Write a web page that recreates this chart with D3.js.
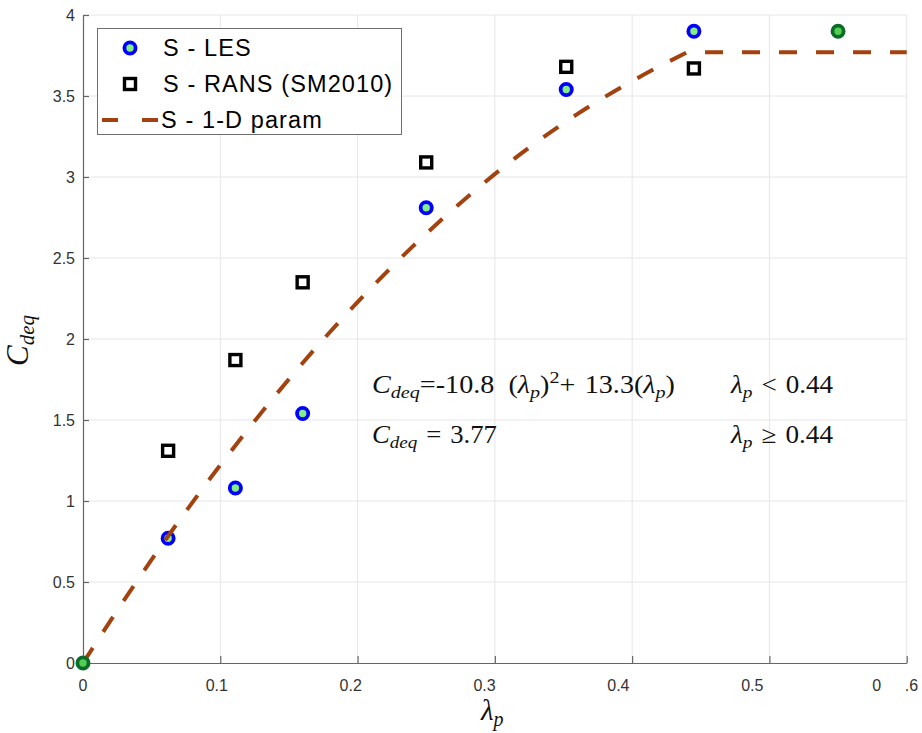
<!DOCTYPE html>
<html>
<head>
<meta charset="utf-8">
<script src="https://cdn.jsdelivr.net/npm/d3@7"></script>
<style>
  html, body { margin: 0; padding: 0; background: #fff; }
  svg { display: block; }
  .tick-label { font-family: "Liberation Sans", Arial, sans-serif; font-size: 16px; fill: #333; }
  .math { font-family: "Liberation Serif", "Times New Roman", serif; fill: #111; }
  .legend-text { font-family: "Liberation Sans", Arial, sans-serif; font-size: 23.5px; letter-spacing: 1.1px; fill: #000; }
</style>
</head>
<body>
<svg id="chart" width="922" height="733"></svg>
<script>
// Canopy drag coefficient against plan-area density
const lesX = [0.062, 0.111, 0.160, 0.250, 0.352, 0.445];
const lesY = [0.77, 1.08, 1.54, 2.81, 3.54, 3.90];

const ransX = [0.062, 0.111, 0.160, 0.250, 0.352, 0.445];
const ransY = [1.31, 1.87, 2.35, 3.09, 3.68, 3.67];

// reference points (origin and the densest array)
const refX = [0, 0.55];
const refY = [0, 3.90];

// 1-D parameterisation: -10.8 λ² + 13.3 λ below 0.44, then a 3.77 plateau
const paramX = [0, 0.04, 0.08, 0.12, 0.16, 0.20, 0.24, 0.28, 0.32, 0.36, 0.40, 0.44];
const paramY = [0, 0.515, 0.995, 1.440, 1.852, 2.228, 2.570, 2.877, 3.150, 3.388, 3.592, 3.77];
const plateauX = [0.44, 0.60];
const plateauY = [3.77, 3.77];

const xTicks = [0, 0.1, 0.2, 0.3, 0.4, 0.5, 0.6];
const xTickLabels = ["0", "0.1", "0.2", "0.3", "0.4", "0.5", "0 .6"];
const yTicks = [0, 0.5, 1, 1.5, 2, 2.5, 3, 3.5, 4];
const yTickLabels = ["0", "0.5", "1", "1.5", "2", "2.5", "3", "3.5", "4"];

const legendLabels = ["S - LES", "S - RANS (SM2010)", "S - 1-D param"];

const svg = d3.select("#chart");
const x = d3.scaleLinear().domain([0, 0.6]).range([83, 906.7]);
const y = d3.scaleLinear().domain([0, 4]).range([663, 15]);

const BROWN = "#a3420f";
const BLUE = "#0000ff";
const LIGHTGREEN = "#80f080";

// grid
const grid = svg.append("g");
grid.selectAll("line.gx").data(xTicks.slice(1)).join("line")
  .attr("x1", d => x(d)).attr("x2", d => x(d))
  .attr("y1", y(0)).attr("y2", y(4))
  .attr("stroke", "#e6e6e6").attr("stroke-width", 1);
grid.selectAll("line.gy").data(yTicks.slice(1)).join("line")
  .attr("x1", x(0)).attr("x2", x(0.6))
  .attr("y1", d => y(d)).attr("y2", d => y(d))
  .attr("stroke", "#e6e6e6").attr("stroke-width", 1);

// axes with inward ticks
const xAxis = svg.append("g").attr("transform", `translate(0,${y(0)})`)
  .call(d3.axisBottom(x).tickValues(xTicks).tickSize(-7).tickSizeOuter(0).tickFormat(""));
const yAxis = svg.append("g").attr("transform", `translate(${x(0)},0)`)
  .call(d3.axisLeft(y).tickValues(yTicks).tickSize(-6).tickSizeOuter(0).tickFormat(""));
[xAxis, yAxis].forEach(a => {
  a.select(".domain").attr("stroke", "#666").attr("stroke-width", 1.2);
  a.selectAll(".tick line").attr("stroke", "#666").attr("stroke-width", 1.2);
});

// x tick labels
xTickLabels.forEach((lab, i) => {
  const px = x(0) + (x(xTicks[i]) - x(0)) * 0.975;
  if (lab.includes(" ")) {
    const parts = lab.split(" ");
    svg.append("text").attr("class", "tick-label").attr("text-anchor", "middle")
      .attr("x", x(xTicks[i]) - 30).attr("y", 691).text(parts[0]);
    svg.append("text").attr("class", "tick-label").attr("text-anchor", "start")
      .attr("x", x(xTicks[i]) - 2).attr("y", 691).text(parts[1]);
  } else {
    svg.append("text").attr("class", "tick-label").attr("text-anchor", "middle")
      .attr("x", px).attr("y", 691).text(lab);
  }
});
// y tick labels
yTickLabels.forEach((lab, i) => {
  svg.append("text").attr("class", "tick-label").attr("text-anchor", "end")
    .attr("x", 75).attr("y", y(yTicks[i]) + 6).text(lab);
});

// axis titles
const xl = svg.append("text").attr("class", "math").attr("x", 481).attr("y", 720);
xl.append("tspan").attr("font-style", "italic").attr("font-size", 29).text("λ");
xl.append("tspan").attr("font-style", "italic").attr("font-size", 20).attr("dy", 6).text("p");

const yl = svg.append("text").attr("class", "math")
  .attr("transform", "translate(28,366) rotate(-90)");
yl.append("tspan").attr("font-style", "italic").attr("font-size", 31).text("C");
yl.append("tspan").attr("font-style", "italic").attr("font-size", 21).attr("dy", 6).text("deq");

// LES markers
const MR = 5.6, MW = 3.8;
svg.append("g").selectAll("circle").data(lesX.map((d, i) => [d, lesY[i]])).join("circle")
  .attr("cx", d => x(d[0])).attr("cy", d => y(d[1])).attr("r", MR)
  .attr("fill", LIGHTGREEN).attr("stroke", BLUE).attr("stroke-width", MW);

// RANS markers
const sq = 11;
svg.append("g").selectAll("rect").data(ransX.map((d, i) => [d, ransY[i]])).join("rect")
  .attr("x", d => x(d[0]) - sq / 2).attr("y", d => y(d[1]) - sq / 2)
  .attr("width", sq).attr("height", sq)
  .attr("fill", "#fff").attr("stroke", "#000").attr("stroke-width", 3.4);

// parameterised curve: smooth quadratic part joined to a straight plateau
const curve = d3.line().x(d => x(d[0])).y(d => y(d[1])).curve(d3.curveMonotoneX);
const flat = d3.line().x(d => x(d[0])).y(d => y(d[1]));
const curvePath = curve(paramX.map((d, i) => [d, paramY[i]]));
const flatPath = flat(plateauX.map((d, i) => [d, plateauY[i]])).replace(/^M/, "L");
svg.append("path").attr("d", curvePath + flatPath)
  .attr("fill", "none").attr("stroke", BROWN)
  .attr("stroke-width", 4).attr("stroke-dasharray", "18,19");

// reference points
svg.append("g").selectAll("circle").data(refX.map((d, i) => [d, refY[i]])).join("circle")
  .attr("cx", d => x(d[0])).attr("cy", d => y(d[1])).attr("r", MR)
  .attr("fill", "#50d050").attr("stroke", "#0d6b2a").attr("stroke-width", MW);

// annotations: parts are [text, italic, role] with role "sub", "sup" or base;
// each line is widened to typeset-math proportions
const BASE = 24.5, SMALL = 17.5;
function mathLine(xp, yp, width, parts) {
  const t = svg.append("text").attr("class", "math").attr("x", xp).attr("y", yp)
    .attr("font-size", BASE).attr("xml:space", "preserve")
    .attr("textLength", width).attr("lengthAdjust", "spacingAndGlyphs");
  let shift = 0;
  parts.forEach(([txt, it, role]) => {
    const target = role === "sub" ? 5 : role === "sup" ? -10 : 0;
    const s = t.append("tspan").text(txt).attr("dy", target - shift);
    shift = target;
    if (it) s.attr("font-style", "italic");
    s.attr("font-size", role ? SMALL : BASE);
  });
}
const EN = "\u2002", THICK = "\u2004";
mathLine(372, 393, 303, [
  ["C", true], ["deq", true, "sub"], ["=-10.8" + EN + "(", false], ["λ", true], ["p", true, "sub"],
  [")", false], ["2", false, "sup"], ["+" + THICK + "13.3(", false], ["λ", true], ["p", true, "sub"], [")", false]
]);
mathLine(731, 393, 102, [["λ", true], ["p", true, "sub"], [THICK + "<" + THICK + "0.44", false]]);
mathLine(372, 443, 125, [["C", true], ["deq", true, "sub"], [THICK + "=" + THICK + "3.77", false]]);
mathLine(731, 443, 102, [["λ", true], ["p", true, "sub"], [THICK + "≥" + THICK + "0.44", false]]);

// legend
const lg = svg.append("g");
lg.append("rect").attr("x", 97.5).attr("y", 28.5).attr("width", 304).attr("height", 106)
  .attr("fill", "#fff").attr("stroke", "#6e6e6e").attr("stroke-width", 1);
const rowY = [48, 84, 120];
lg.append("circle").attr("cx", 130).attr("cy", rowY[0]).attr("r", MR)
  .attr("fill", LIGHTGREEN).attr("stroke", BLUE).attr("stroke-width", MW);
lg.append("rect").attr("x", 130 - sq / 2).attr("y", rowY[1] - sq / 2).attr("width", sq).attr("height", sq)
  .attr("fill", "#fff").attr("stroke", "#000").attr("stroke-width", 3.4);
lg.append("line").attr("x1", 102).attr("x2", 160).attr("y1", rowY[2]).attr("y2", rowY[2])
  .attr("stroke", BROWN).attr("stroke-width", 4).attr("stroke-dasharray", "16,24");
legendLabels.forEach((lab, i) => {
  lg.append("text").attr("class", "legend-text")
    .attr("x", i === 2 ? 161 : 163).attr("y", rowY[i] + 8).text(lab);
});
</script>
</body>
</html>
